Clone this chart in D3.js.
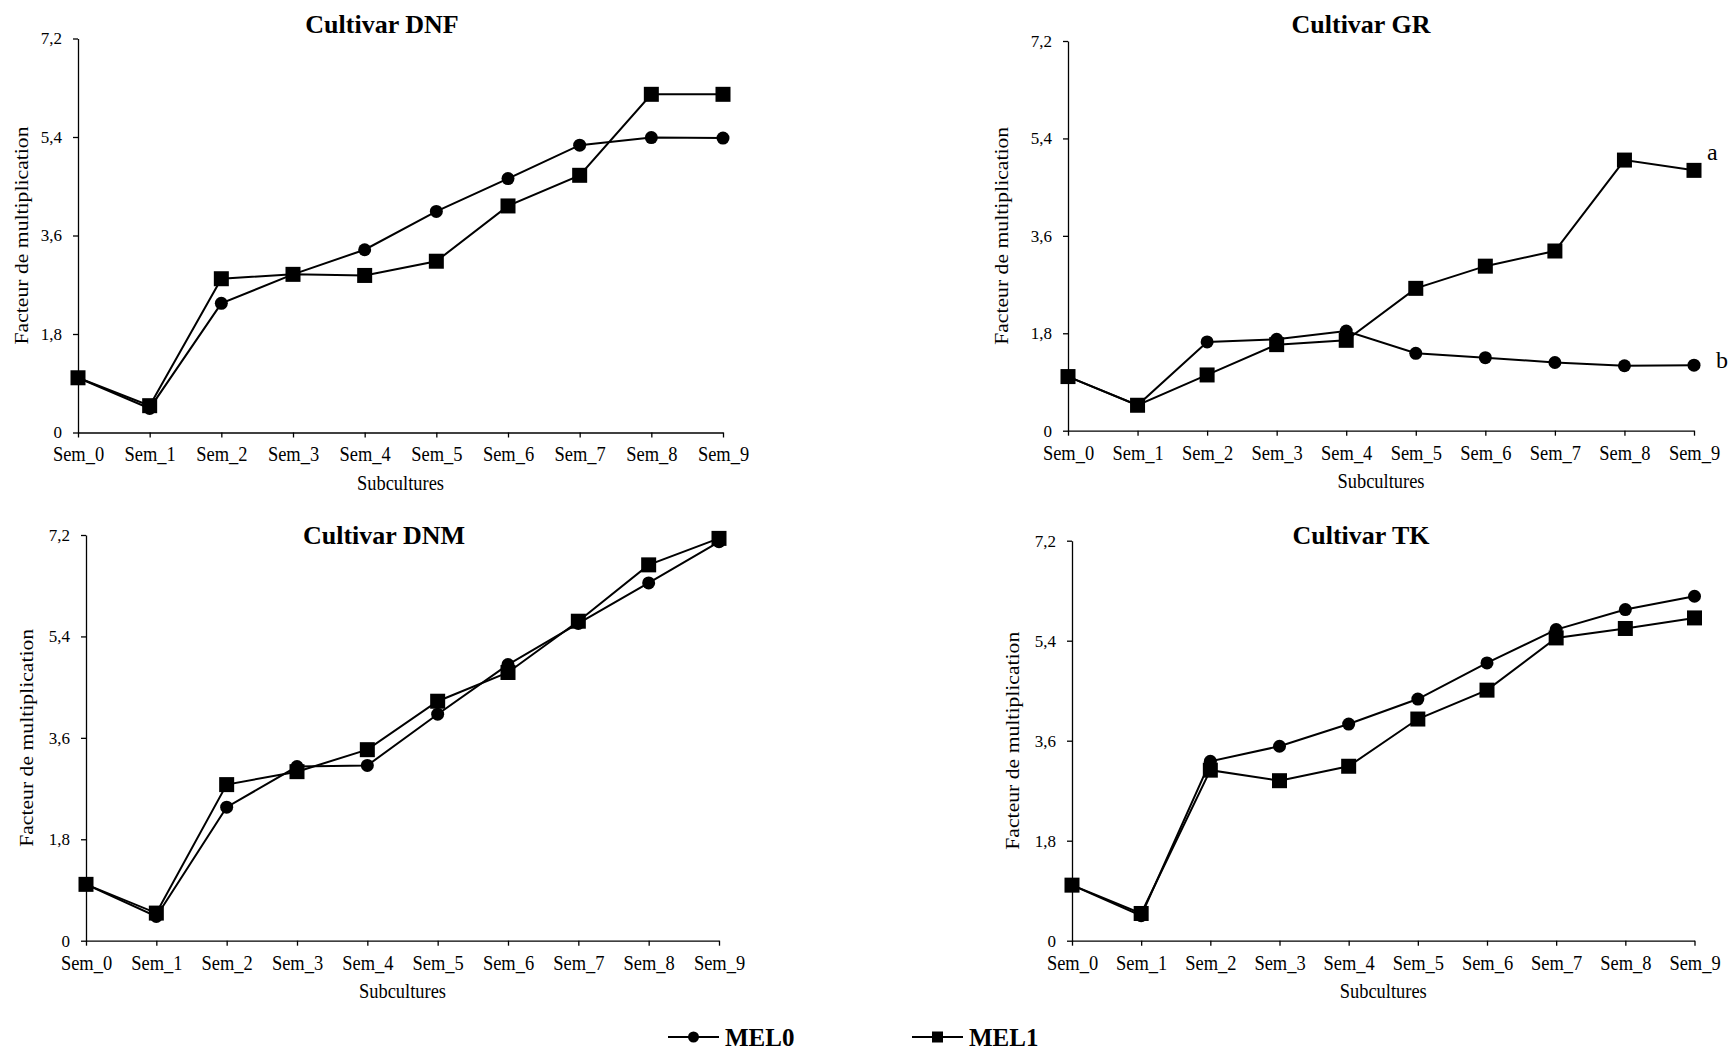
<!DOCTYPE html>
<html>
<head>
<meta charset="utf-8">
<script src="https://cdn.jsdelivr.net/npm/d3@7"></script>
<style>
  body { margin: 0; background: #fff; }
  svg { display: block; font-family: 'Liberation Serif', 'Times New Roman', serif; }
  .axis path, .axis line { stroke: #000; stroke-width: 1.3; }
  .axis text { fill: #000; font-family: 'Liberation Serif', serif; }
  .y-axis text { font-size: 17px; }
  .x-axis text { font-size: 21.7px; }
  .title { font-size: 26px; font-weight: bold; text-anchor: middle; }
  .label { font-size: 21.7px; text-anchor: middle; }
  .series { fill: none; stroke: #000; stroke-width: 2; }
  .legend-text { font-size: 25px; font-weight: bold; }
  .letter { font-size: 24px; }
</style>
</head>
<body>
<svg class="chart"></svg>
<script>
const subcultures = ['Sem_0', 'Sem_1', 'Sem_2', 'Sem_3', 'Sem_4', 'Sem_5', 'Sem_6', 'Sem_7', 'Sem_8', 'Sem_9'];
const yTickValues = [0, 1.8, 3.6, 5.4, 7.2];
const yTickLabels = ['0', '1,8', '3,6', '5,4', '7,2'];
const seriesNames = ['MEL0', 'MEL1'];

const dnfMel0 = [1.0, 0.44, 2.36, 2.89, 3.34, 4.04, 4.64, 5.25, 5.39, 5.38];
const dnfMel1 = [1.0, 0.49, 2.81, 2.89, 2.87, 3.13, 4.14, 4.70, 6.18, 6.18];
const grMel0 = [1.0, 0.47, 1.64, 1.69, 1.84, 1.43, 1.35, 1.26, 1.20, 1.21];
const grMel1 = [1.0, 0.47, 1.03, 1.59, 1.67, 2.63, 3.04, 3.32, 5.0, 4.81];
const dnmMel0 = [1.0, 0.43, 2.37, 3.09, 3.11, 4.02, 4.90, 5.63, 6.35, 7.08];
const dnmMel1 = [1.0, 0.49, 2.77, 3.0, 3.39, 4.25, 4.76, 5.67, 6.67, 7.14];
const tkMel0 = [1.0, 0.45, 3.23, 3.50, 3.90, 4.35, 5.0, 5.60, 5.96, 6.20];
const tkMel1 = [1.0, 0.49, 3.07, 2.88, 3.14, 3.99, 4.51, 5.45, 5.62, 5.81];
const grLetters = ['b', 'a'];

// text in the original is a bit narrow, squeeze it sideways
const squeeze = 0.85;

// panel frames in page pixels
const panels = [
  { title: 'Cultivar DNF', mel0: dnfMel0, mel1: dnfMel1, x0: 78, x1: 723, top: 38.5, bottom: 432.5, titleX: 382, titleY: 33, yTitleX: 22 },
  { title: 'Cultivar GR', mel0: grMel0, mel1: grMel1, x0: 1068, x1: 1694, top: 41, bottom: 430.7, titleX: 1361, titleY: 33, yTitleX: 1002, letters: grLetters },
  { title: 'Cultivar DNM', mel0: dnmMel0, mel1: dnmMel1, x0: 86, x1: 719, top: 535, bottom: 940.7, titleX: 384, titleY: 544, yTitleX: 27 },
  { title: 'Cultivar TK', mel0: tkMel0, mel1: tkMel1, x0: 1072, x1: 1694.5, top: 540.7, bottom: 940.7, titleX: 1361, titleY: 544, yTitleX: 1013 },
];

const drawMarker = (g, kind, x, y, size) => {
  if (kind === 'MEL0') {
    g.append('circle')
      .attr('cx', x)
      .attr('cy', y)
      .attr('r', size / 2)
      .attr('fill', '#000');
  } else {
    g.append('rect')
      .attr('x', x - size / 2)
      .attr('y', y - size / 2)
      .attr('width', size)
      .attr('height', size)
      .attr('fill', '#000');
  }
};

const drawPanel = (svg, panel) => {
  const xScale = d3.scalePoint().domain(subcultures).range([panel.x0, panel.x1]);
  const yScale = d3.scaleLinear().domain([0, 7.2]).range([panel.bottom, panel.top]);
  const g = svg.append('g');

  const yAxis = d3.axisLeft(yScale)
    .tickValues(yTickValues)
    .tickFormat((d, i) => yTickLabels[i])
    .tickSize(5)
    .tickPadding(11)
    .tickSizeOuter(0);
  const xAxis = d3.axisBottom(xScale)
    .tickSize(5)
    .tickPadding(8.5)
    .tickSizeOuter(0);

  g.append('g')
    .classed('axis y-axis', true)
    .attr('transform', `translate(${panel.x0}, 0)`)
    .call(yAxis);
  g.append('g')
    .classed('axis x-axis', true)
    .attr('transform', `translate(0, ${panel.bottom})`)
    .call(xAxis)
    .selectAll('text')
    .attr('transform', `scale(${squeeze}, 1)`);

  g.append('text')
    .classed('title', true)
    .attr('x', panel.titleX)
    .attr('y', panel.titleY)
    .text(panel.title);

  g.append('text')
    .classed('label', true)
    .attr('transform', `translate(${(panel.x0 + panel.x1) / 2}, ${panel.bottom + 57}) scale(${squeeze}, 1)`)
    .text('Subcultures');

  g.append('text')
    .classed('label', true)
    .attr('transform', `translate(${panel.yTitleX}, ${(panel.top + panel.bottom) / 2}) rotate(-90) scale(1, ${squeeze})`)
    .attr('dy', '0.35em')
    .text('Facteur de multiplication');

  const line = d3.line()
    .x((d, i) => xScale(subcultures[i]))
    .y(d => yScale(d));

  [panel.mel0, panel.mel1].forEach((values, k) => {
    g.append('path')
      .classed('series', true)
      .attr('d', line(values));
    values.forEach((v, i) => drawMarker(g, seriesNames[k], xScale(subcultures[i]), yScale(v), k === 0 ? 13 : 15));
  });

  if (panel.letters) {
    const last = subcultures.length - 1;
    [panel.mel0[last], panel.mel1[last]].forEach((v, k) => {
      g.append('text')
        .classed('letter', true)
        .attr('x', panel.x1 + (k === 0 ? 22 : 13))
        .attr('y', yScale(v) + (k === 0 ? 3 : -10))
        .text(panel.letters[k]);
    });
  }
};

const drawLegend = (svg) => {
  const items = [{ name: 'MEL0', x: 668 }, { name: 'MEL1', x: 912 }];
  const y = 1037;
  items.forEach(({ name, x }) => {
    const g = svg.append('g');
    g.append('line')
      .attr('x1', x)
      .attr('x2', x + 51)
      .attr('y1', y)
      .attr('y2', y)
      .attr('stroke', '#000')
      .attr('stroke-width', 2);
    drawMarker(g, name, x + 25.5, y, 11);
    g.append('text')
      .classed('legend-text', true)
      .attr('x', x + 57)
      .attr('y', y)
      .attr('dy', '0.35em')
      .text(name);
  });
};

const startApp = () => {
  const svg = d3.select('.chart')
    .attr('width', 1733)
    .attr('height', 1051);

  panels.forEach(panel => drawPanel(svg, panel));
  drawLegend(svg);
};

window.onload = startApp;
</script>
</body>
</html>
